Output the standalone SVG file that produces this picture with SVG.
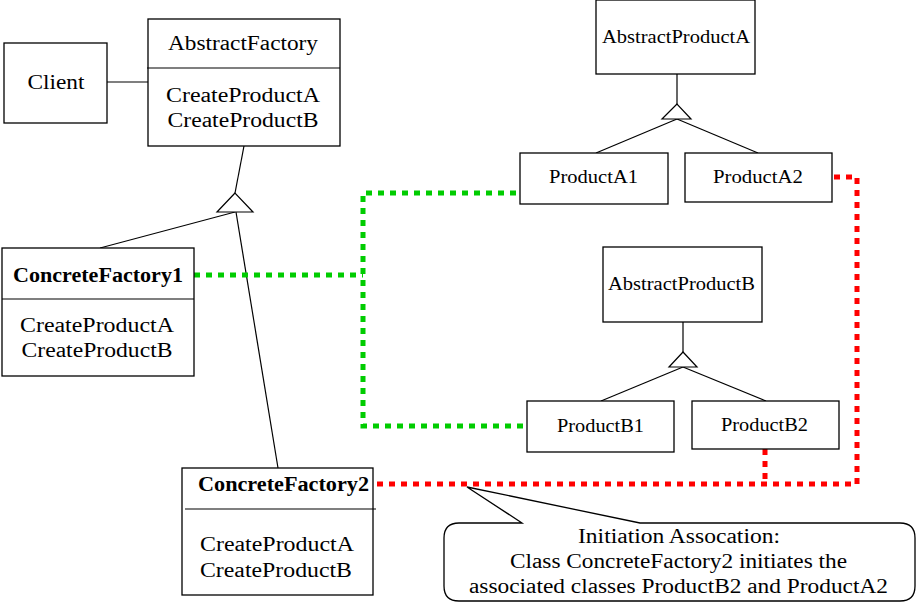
<svg xmlns="http://www.w3.org/2000/svg" width="916" height="612" viewBox="0 0 916 612">
<style>
.box{fill:#fff;stroke:#000;stroke-width:1.3}
.ln{fill:none;stroke:#000;stroke-width:1.2}
.tri{fill:#fff;stroke:#000;stroke-width:1.2}
text{font-family:'Liberation Serif','DejaVu Serif',serif;fill:#000;text-anchor:middle}
.t20{font-size:20px}
.t18{font-size:18px}
.b{font-weight:bold}
.g{fill:none;stroke:#00cc00;stroke-width:5;stroke-dasharray:6 6}
.r{fill:none;stroke:#ff0000;stroke-width:5;stroke-dasharray:6 6}
</style>
<rect width="916" height="612" fill="#fff"/>
<g id="connectors">
<line class="ln" x1="107" y1="82" x2="148" y2="82"/>
<line class="ln" x1="244" y1="146" x2="235" y2="193"/>
<line class="ln" x1="235" y1="212" x2="100" y2="248"/>
<line class="ln" x1="236" y1="212" x2="278" y2="468"/>
<polygon class="tri" points="235,193 217,212 253,212"/>
<line class="ln" x1="677" y1="74" x2="677" y2="104"/>
<line class="ln" x1="677" y1="119" x2="596" y2="153"/>
<line class="ln" x1="677" y1="119" x2="758" y2="153"/>
<polygon class="tri" points="677,104 662,119 691,119"/>
<line class="ln" x1="683" y1="322" x2="683" y2="352"/>
<line class="ln" x1="683" y1="367" x2="601" y2="401"/>
<line class="ln" x1="683" y1="367" x2="766" y2="401"/>
<polygon class="tri" points="683,352 669,367 697,367"/>
<path class="g" d="M194,275 H363"/>
<path class="g" d="M516,193 H363 V426 H528"/>
<path class="r" d="M377,484 H857 V177 H833"/>
<path class="r" d="M765,449 V484"/>
</g>
<g id="Client">
<rect class="box" x="4" y="43" width="103" height="80"/>
<text class="t20" x="56" y="89" textLength="57" lengthAdjust="spacingAndGlyphs">Client</text>
</g>
<g id="AbstractFactory">
<rect class="box" x="148" y="19" width="192" height="127"/>
<line class="ln" x1="147" y1="68" x2="340" y2="68"/>
<text class="t20" x="243" y="50" textLength="150" lengthAdjust="spacingAndGlyphs">AbstractFactory</text>
<text class="t20" x="243" y="102" textLength="154" lengthAdjust="spacingAndGlyphs">CreateProductA</text>
<text class="t20" x="243" y="127" textLength="151" lengthAdjust="spacingAndGlyphs">CreateProductB</text>
</g>
<g id="ConcreteFactory1">
<rect class="box" x="2" y="248" width="192" height="128"/>
<line class="ln" x1="2" y1="299" x2="194" y2="299"/>
<text class="t20 b" x="98" y="282" textLength="170" lengthAdjust="spacingAndGlyphs">ConcreteFactory1</text>
<text class="t20" x="97" y="332" textLength="154" lengthAdjust="spacingAndGlyphs">CreateProductA</text>
<text class="t20" x="97" y="357" textLength="151" lengthAdjust="spacingAndGlyphs">CreateProductB</text>
</g>
<g id="ConcreteFactory2">
<rect class="box" x="182" y="468" width="191" height="127"/>
<line class="ln" x1="185" y1="509" x2="376" y2="509"/>
<text class="t20 b" x="283.5" y="491" textLength="171" lengthAdjust="spacingAndGlyphs">ConcreteFactory2</text>
<text class="t20" x="277" y="551" textLength="154" lengthAdjust="spacingAndGlyphs">CreateProductA</text>
<text class="t20" x="276" y="577" textLength="152" lengthAdjust="spacingAndGlyphs">CreateProductB</text>
</g>
<g id="AbstractProductA">
<rect class="box" x="596" y="0" width="159" height="74"/>
<text class="t18" x="676" y="43" textLength="148" lengthAdjust="spacingAndGlyphs">AbstractProductA</text>
</g>
<g id="ProductA1">
<rect class="box" x="520" y="153" width="148" height="51"/>
<text class="t18" x="593.5" y="183" textLength="89" lengthAdjust="spacingAndGlyphs">ProductA1</text>
</g>
<g id="ProductA2">
<rect class="box" x="685" y="153" width="147" height="49"/>
<text class="t18" x="758" y="183" textLength="90" lengthAdjust="spacingAndGlyphs">ProductA2</text>
</g>
<g id="AbstractProductB">
<rect class="box" x="603" y="247" width="159" height="75"/>
<text class="t18" x="681.5" y="290" textLength="147" lengthAdjust="spacingAndGlyphs">AbstractProductB</text>
</g>
<g id="ProductB1">
<rect class="box" x="527" y="401" width="147" height="51"/>
<text class="t18" x="600.5" y="432" textLength="87" lengthAdjust="spacingAndGlyphs">ProductB1</text>
</g>
<g id="ProductB2">
<rect class="box" x="692" y="401" width="147" height="48"/>
<text class="t18" x="764.5" y="431" textLength="87" lengthAdjust="spacingAndGlyphs">ProductB2</text>
</g>
<g id="Callout">
<path class="box" d="M522,523 L467,487 L640,523 H900 Q915,523 915,538 V586 Q915,601 900,601 H459 Q444,601 444,586 V538 Q444,523 459,523 Z"/>
<text class="t20" x="679" y="543" textLength="202" lengthAdjust="spacingAndGlyphs">Initiation Assocation:</text>
<text class="t20" x="678.5" y="568" textLength="337" lengthAdjust="spacingAndGlyphs">Class ConcreteFactory2 initiates the</text>
<text class="t20" x="678.5" y="593" textLength="419" lengthAdjust="spacingAndGlyphs">associated classes ProductB2 and ProductA2</text>
</g>
</svg>
